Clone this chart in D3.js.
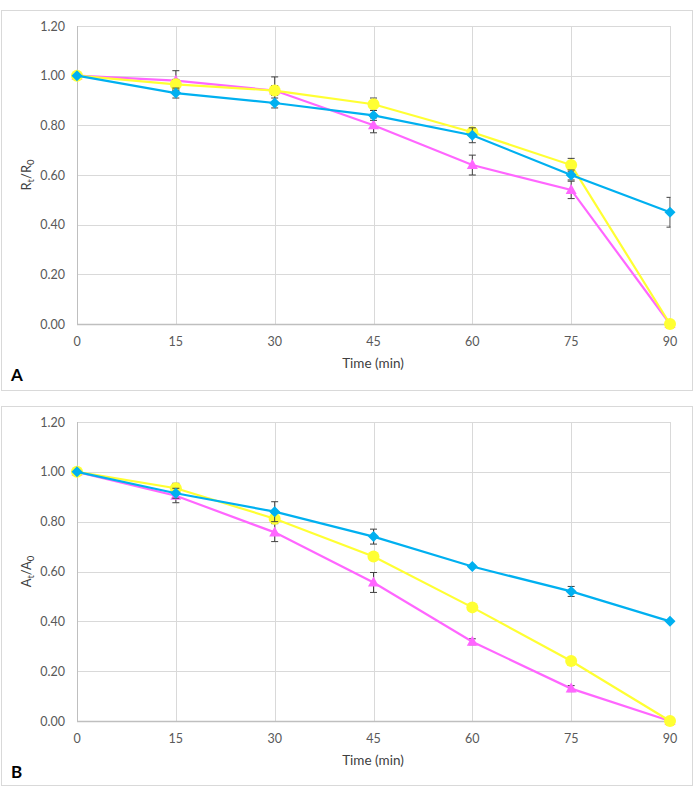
<!DOCTYPE html>
<html><head><meta charset="utf-8">
<script src="https://cdn.jsdelivr.net/npm/d3@7"></script>
<style>body{margin:0;background:#fff;} text{font-family:Lato,"Open Sans",sans-serif;}</style>
</head><body>
<svg id="c" width="694" height="797"></svg>
<script>
const times = [0, 15, 30, 45, 60, 75, 90];
const yTicks = [0, 0.2, 0.4, 0.6, 0.8, 1.0, 1.2];

// Panel A (Rt/R0)
const aBlue   = [1.00, 0.93, 0.89, 0.84, 0.76, 0.60, 0.45];
const aBlueE  = [0, 0.02, 0.02, 0.02, 0.03, 0.02, 0.06];
const aPink   = [1.00, 0.98, 0.94, 0.80, 0.64, 0.54, 0.00];
const aPinkE  = [0, 0.04, 0.02, 0.03, 0.04, 0.035, 0];
const aYellow = [1.00, 0.965, 0.94, 0.885, 0.772, 0.64, 0.00];
const aYellowE= [0, 0.02, 0.055, 0.025, 0.01, 0.027, 0];

// Panel B (At/A0)
const bBlue   = [1.00, 0.914, 0.84, 0.74, 0.62, 0.52, 0.40];
const bBlueE  = [0, 0.02, 0.04, 0.03, 0.005, 0.02, 0];
const bPink   = [1.00, 0.904, 0.757, 0.556, 0.318, 0.13, 0.00];
const bPinkE  = [0, 0.028, 0.037, 0.04, 0.012, 0.012, 0];
const bYellow = [1.00, 0.934, 0.812, 0.66, 0.456, 0.241, 0.00];
const bYellowE= [0, 0.02, 0.02, 0.01, 0.01, 0.01, 0];

const svg = d3.select("#c");
const C = {blue:"#00B0F0", pink:"#FF66FF", yellow:"#FFFF33"};

function panel(opt){
  const g = svg.append("g");
  g.append("rect").attr("x",opt.box[0]+0.5).attr("y",opt.box[1]+0.5)
    .attr("width",opt.box[2]).attr("height",opt.box[3])
    .attr("fill","#fff").attr("stroke","#D9D9D9").attr("stroke-width",1);
  const x = d3.scaleLinear().domain([0,90]).range([77,670]);
  const y = d3.scaleLinear().domain([0,1.2]).range([opt.y0, opt.y1]);
  // grid
  g.append("g").selectAll("line").data(yTicks.slice(1)).join("line")
    .attr("x1",77).attr("x2",670).attr("y1",d=>Math.round(y(d))+0.5).attr("y2",d=>Math.round(y(d))+0.5)
    .attr("stroke","#D9D9D9").attr("stroke-width",1);
  g.append("g").selectAll("line").data(times.slice(1)).join("line")
    .attr("x1",d=>Math.round(x(d))+0.5).attr("x2",d=>Math.round(x(d))+0.5)
    .attr("y1",y(1.2)).attr("y2",y(0))
    .attr("stroke","#D9D9D9").attr("stroke-width",1);
  // axes lines
  g.append("line").attr("x1",77.5).attr("x2",77.5).attr("y1",y(1.2)).attr("y2",y(0)).attr("stroke","#BFBFBF");
  g.append("line").attr("x1",77).attr("x2",670).attr("y1",Math.round(y(0))+0.5).attr("y2",Math.round(y(0))+0.5).attr("stroke","#BFBFBF").attr("stroke-width",1.5);
  // tick labels
  g.append("g").selectAll("text").data(yTicks).join("text")
    .attr("x",65).attr("y",d=>y(d)+4.5).attr("text-anchor","end")
    .attr("font-size",12.5).attr("fill","#595959").text(d=>d3.format(".2f")(d));
  g.append("g").selectAll("text").data(times).join("text")
    .attr("x",d=>x(d)).attr("y",y(0)+22).attr("text-anchor","middle")
    .attr("font-size",12.5).attr("fill","#595959").text(d=>d);
  g.append("text").attr("x",373).attr("y",y(0)+44).attr("text-anchor","middle")
    .attr("font-size",13.5).attr("fill","#404040").text("Time (min)");
  // y title
  const yt = g.append("text").attr("transform",`translate(31,${(y(0)+y(1.2))/2}) rotate(-90)`)
    .attr("text-anchor","middle").attr("font-size",13).attr("fill","#404040");
  yt.append("tspan").text(opt.lab);
  yt.append("tspan").attr("font-size",9.5).attr("dy",3).text("t");
  yt.append("tspan").attr("dy",-3).text("/"+opt.lab);
  yt.append("tspan").attr("font-size",9.5).attr("dy",3).text("0");
  // panel letter
  g.append("text").attr("x",11).attr("y",y(0)+57).attr("font-size",17).attr("font-weight","bold")
    .attr("fill","#000").text(opt.letter);

  const clipId = "clip"+opt.letter;
  g.append("clipPath").attr("id",clipId).append("rect")
    .attr("x",0).attr("y",0).attr("width",670.5).attr("height",797);

  const line = d3.line().x((d,i)=>x(times[i])).y(d=>y(d));
  const series = [
    {v:opt.pink, e:opt.pinkE, c:C.pink, m:"tri"},
    {v:opt.yellow, e:opt.yellowE, c:C.yellow, m:"circ"},
    {v:opt.blue, e:opt.blueE, c:C.blue, m:"dia"}
  ];
  series.forEach(s=>{
    const eg = g.append("g").attr("clip-path",`url(#${clipId})`);
    s.e.forEach((e,i)=>{
      if(!e) return;
      const cx = x(times[i]);
      eg.append("line").attr("x1",cx).attr("x2",cx).attr("y1",y(s.v[i]-e)).attr("y2",y(s.v[i]+e)).attr("stroke","#404040").attr("stroke-width",1);
      [s.v[i]-e, s.v[i]+e].forEach(v=>{
        eg.append("line").attr("x1",cx-3.5).attr("x2",cx+3.5).attr("y1",y(v)).attr("y2",y(v)).attr("stroke","#404040").attr("stroke-width",1);
      });
    });
    g.append("path").datum(s.v).attr("d",line).attr("fill","none").attr("stroke",s.c).attr("stroke-width",2.2);
    const mg = g.append("g");
    s.v.forEach((v,i)=>{
      const cx = x(times[i]), cy = y(v);
      if(s.m==="circ") mg.append("circle").attr("cx",cx).attr("cy",cy).attr("r",6).attr("fill",s.c);
      else if(s.m==="dia") mg.append("path").attr("d",`M${cx},${cy-5.5}L${cx+5.5},${cy}L${cx},${cy+5.5}L${cx-5.5},${cy}Z`).attr("fill",s.c);
      else mg.append("path").attr("d",`M${cx},${cy-6}L${cx+5.5},${cy+4}L${cx-5.5},${cy+4}Z`).attr("fill",s.c);
    });
  });
}

panel({box:[1,10,691,380], y0:324, y1:26, letter:"A", lab:"R",
  blue:aBlue, blueE:aBlueE, pink:aPink, pinkE:aPinkE, yellow:aYellow, yellowE:aYellowE});
panel({box:[1,406,691,379], y0:721, y1:422, letter:"B", lab:"A",
  blue:bBlue, blueE:bBlueE, pink:bPink, pinkE:bPinkE, yellow:bYellow, yellowE:bYellowE});
</script>
</body></html>
